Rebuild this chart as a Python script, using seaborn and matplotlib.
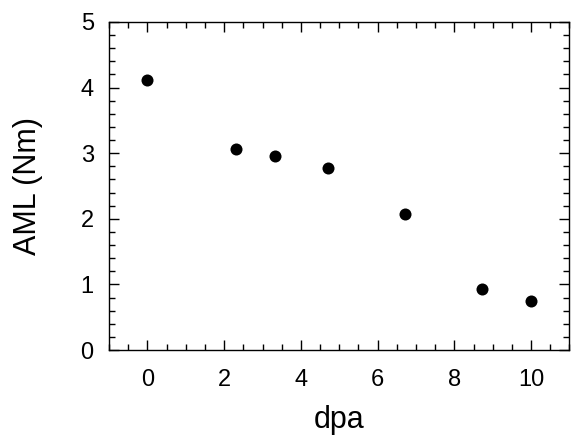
import matplotlib
matplotlib.use("Agg")
import matplotlib.pyplot as plt
import seaborn as sns
import pandas as pd
from matplotlib.ticker import MultipleLocator

dpa = [0.0, 2.31, 3.32, 4.71, 6.71, 8.71, 10.0]
aml = [4.12, 3.06, 2.96, 2.77, 2.07, 0.93, 0.74]
x_ticks = [0, 2, 4, 6, 8, 10]
y_ticks = [0, 1, 2, 3, 4, 5]

sns.set_style("ticks")
plt.rcParams['font.family'] = ['Liberation Sans', 'DejaVu Sans']
plt.rcParams['text.color'] = 'black'
plt.rcParams['axes.labelcolor'] = 'black'

df = pd.DataFrame({"dpa": dpa, "AML (Nm)": aml})

fig = plt.figure(figsize=(5.72, 4.40), dpi=100)
ax = fig.add_axes([0.1906, 0.2045, 0.8050, 0.7455])
sns.scatterplot(data=df, x="dpa", y="AML (Nm)", ax=ax, color="black", s=75,
                edgecolor="black", linewidth=0, zorder=3)
ax.set_xlim(-1, 11)
ax.set_ylim(0, 5)
ax.set_xticks(x_ticks)
ax.set_yticks(y_ticks)
ax.xaxis.set_minor_locator(MultipleLocator(0.5))
ax.yaxis.set_minor_locator(MultipleLocator(0.2))
ax.tick_params(which="both", direction="in", top=True, right=True, width=1,
               colors="black", labelcolor="black")
ax.tick_params(which="major", length=7, labelsize=17)
ax.tick_params(axis="x", which="major", pad=14)
ax.tick_params(axis="y", which="major", pad=11)
ax.tick_params(which="minor", length=4)
for s in ax.spines.values():
    s.set_visible(True)
    s.set_linewidth(1)
    s.set_color("black")
ax.set_xlabel("dpa", fontsize=22, labelpad=10)
ax.set_ylabel("AML (Nm)", fontsize=22, labelpad=27)
fig.savefig("out.png", dpi=100)
